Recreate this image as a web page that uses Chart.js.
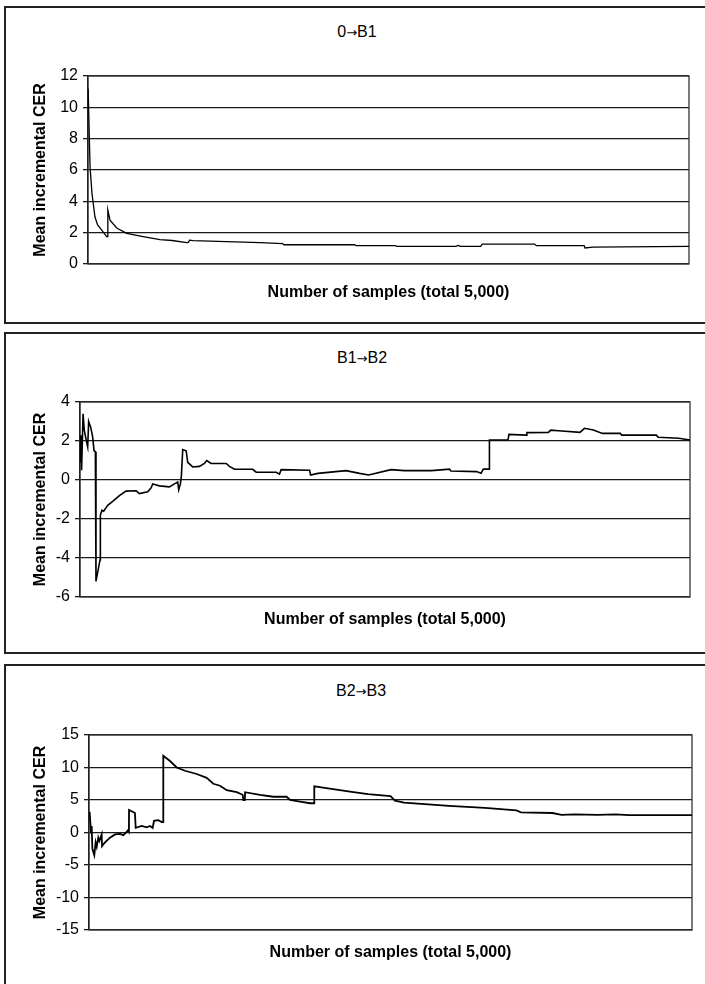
<!DOCTYPE html>
<html>
<head>
<meta charset="utf-8">
<script src="https://cdn.jsdelivr.net/npm/chart.js@4.4.1/dist/chart.umd.min.js"></script>
<style>
  html, body { margin: 0; padding: 0; background: #fff; }
  body { width: 705px; height: 984px; position: relative; overflow: hidden; font-family: "Liberation Sans", Arial, sans-serif; }
  .panel { position: absolute; box-sizing: border-box; border: 2px solid #222; background: #fff; }
  .box { position: absolute; left: 0; width: 705px; }
  .ttl { position: absolute; font-size: 16px; color: #000; transform: translate(-50%, -50%); white-space: nowrap; }
  .ttl .arr { font-family: "DejaVu Sans", sans-serif; font-size: 13px; }
</style>
</head>
<body>
<div class="panel" style="left:4px;top:6px;width:740px;height:318px;"></div>
<div class="panel" style="left:4px;top:332px;width:740px;height:322px;"></div>
<div class="panel" style="left:4px;top:664px;width:740px;height:400px;"></div>

<div class="ttl" style="left:357px;top:32px;">0<span class="arr">→</span>B1</div>
<div class="ttl" style="left:362px;top:358px;">B1<span class="arr">→</span>B2</div>
<div class="ttl" style="left:361px;top:691px;">B2<span class="arr">→</span>B3</div>

<div class="box" style="top:0px;height:323px;"><canvas id="c1" width="705" height="323"></canvas></div>
<div class="box" style="top:325px;height:328px;"><canvas id="c2" width="705" height="328"></canvas></div>
<div class="box" style="top:657px;height:327px;"><canvas id="c3" width="705" height="327"></canvas></div>

<script>
// 0 -> B1
const samples1 = [1, 17, 33, 58, 80, 100, 130, 155, 164, 165, 183, 239, 322, 458, 599, 700, 821, 835, 845, 874, 1154, 1431, 1620, 1630, 2219, 2230, 2556, 2570, 3060, 3080, 3100, 3267, 3280, 3716, 3730, 4128, 4135, 4200, 5000];
const cer1 = [11.2, 6.2, 4.5, 3.0, 2.5, 2.3, 2.0, 1.75, 1.75, 3.45, 2.8, 2.3, 1.96, 1.75, 1.55, 1.5, 1.36, 1.38, 1.52, 1.49, 1.43, 1.36, 1.3, 1.23, 1.23, 1.17, 1.17, 1.13, 1.13, 1.19, 1.13, 1.13, 1.27, 1.27, 1.17, 1.17, 1.02, 1.08, 1.13];

// B1 -> B2
const samples2 = [1, 5, 8, 13, 25, 35, 49, 63, 71, 88, 104, 115, 126, 131, 164, 167, 180, 194, 227, 268, 323, 377, 460, 487, 555, 583, 596, 651, 733, 774, 801, 809, 823, 831, 842, 870, 883, 924, 979, 1020, 1039, 1075, 1198, 1225, 1266, 1416, 1444, 1608, 1635, 1649, 1882, 1890, 1950, 2180, 2292, 2366, 2550, 2660, 2882, 3029, 3040, 3250, 3287, 3306, 3353, 3356, 3508, 3516, 3656, 3663, 3840, 3858, 3950, 4098, 4135, 4208, 4282, 4429, 4440, 4724, 4740, 4908, 5000];
const cer2 = [2.0, 0.9, 2.3, 0.5, 3.4, 2.56, 2.1, 1.7, 3.0, 2.7, 2.2, 1.5, 1.45, -5.2, -4.1, -1.8, -1.55, -1.6, -1.3, -1.1, -0.8, -0.57, -0.55, -0.7, -0.6, -0.4, -0.2, -0.3, -0.35, -0.2, -0.1, -0.5, -0.2, 0.2, 1.56, 1.5, 0.9, 0.67, 0.7, 0.85, 1.0, 0.85, 0.85, 0.7, 0.55, 0.55, 0.4, 0.4, 0.3, 0.53, 0.5, 0.26, 0.34, 0.48, 0.34, 0.26, 0.53, 0.48, 0.48, 0.56, 0.46, 0.43, 0.34, 0.56, 0.56, 2.05, 2.05, 2.34, 2.3, 2.43, 2.44, 2.56, 2.51, 2.44, 2.65, 2.56, 2.39, 2.39, 2.3, 2.3, 2.19, 2.14, 2.05];

// B2 -> B3
const samples3 = [5, 17, 22, 28, 44, 55, 64, 77, 86, 105, 108, 133, 174, 216, 257, 285, 312, 326, 331, 332, 381, 387, 437, 478, 506, 528, 539, 575, 603, 614, 616, 672, 727, 796, 893, 976, 1031, 1086, 1142, 1225, 1274, 1280, 1292, 1294, 1418, 1528, 1639, 1667, 1750, 1833, 1866, 1868, 1940, 2164, 2313, 2500, 2537, 2612, 2985, 3283, 3544, 3582, 3843, 3918, 4029, 4216, 4365, 4477, 5000];
const cer3 = [3.2, 0, 1.0, -2.5, -3.5, -1.5, -2.2, -0.77, -1.3, -0.3, -2.1, -1.5, -0.8, -0.3, -0.2, -0.4, 0.1, 0.4, 0.2, 3.47, 3.0, 0.71, 1.0, 0.8, 1.0, 0.7, 1.79, 1.9, 1.6, 1.6, 11.8, 11.0, 10.0, 9.5, 9.0, 8.4, 7.5, 7.2, 6.5, 6.2, 5.8, 5.0, 5.0, 6.2, 5.8, 5.5, 5.5, 5.0, 4.75, 4.5, 4.5, 7.1, 6.9, 6.3, 5.9, 5.6, 4.9, 4.6, 4.1, 3.8, 3.4, 3.1, 3.0, 2.7, 2.8, 2.7, 2.8, 2.66, 2.66];

const totalSamples = 5000;
const fontFamily = "'Liberation Sans', Arial, sans-serif";

// plot frame (top / right edge of the plot area)
const framePlugin = {
  id: "frame",
  beforeDatasetsDraw(chart) {
    const { ctx, chartArea: a } = chart;
    ctx.save();
    ctx.strokeStyle = "#333";
    ctx.lineWidth = 1.3;
    ctx.strokeRect(a.left, a.top, a.right - a.left, a.bottom - a.top);
    ctx.restore();
  },
};

function makeChart(id, samples, values, opt) {
  const points = samples.map((s, i) => ({ x: s, y: values[i] }));
  return new Chart(document.getElementById(id), {
    type: "line",
    data: {
      datasets: [
        {
          data: points,
          borderColor: "#000",
          borderWidth: opt.lineWidth,
          pointRadius: 0,
          tension: 0,
        },
      ],
    },
    options: {
      responsive: false,
      animation: false,
      devicePixelRatio: 1,
      layout: { padding: { top: opt.top, right: 705 - opt.right, left: 0, bottom: 0 } },
      plugins: { legend: { display: false }, tooltip: { enabled: false } },
      scales: {
        x: {
          type: "linear",
          min: 0,
          max: totalSamples,
          ticks: { display: false },
          grid: { display: false },
          border: { display: false },
          title: {
            display: true,
            text: "Number of samples (total 5,000)",
            color: "#000",
            font: { family: fontFamily, size: 16, weight: "bold" },
            padding: { top: 0, bottom: opt.xTitlePad },
          },
          afterFit: (scale) => {
            scale.height = opt.height - opt.bottom;
          },
        },
        y: {
          min: opt.min,
          max: opt.max,
          ticks: {
            stepSize: opt.step,
            color: "#000",
            padding: 5,
            font: { family: fontFamily, size: 16 },
          },
          grid: { color: "#1a1a1a", lineWidth: 1.3, tickLength: 5 },
          border: { display: true, color: "#000", width: 1.3 },
          title: {
            display: true,
            text: "Mean incremental CER",
            color: "#000",
            font: { family: fontFamily, size: 16, weight: "bold" },
            padding: { top: 31, bottom: 0 },
          },
          afterFit: (scale) => {
            scale.width = opt.left;
          },
        },
      },
    },
    plugins: [framePlugin],
  });
}

makeChart("c1", samples1, cer1, { top: 76, bottom: 264, left: 88, right: 689, height: 323, min: 0, max: 12, step: 2, lineWidth: 1.3, xTitlePad: 20.4 });
makeChart("c2", samples2, cer2, { top: 77, bottom: 272, left: 80, right: 690, height: 328, min: -6, max: 4, step: 2, lineWidth: 1.6, xTitlePad: 23.4 });
makeChart("c3", samples3, cer3, { top: 78, bottom: 273, left: 89, right: 692, height: 327, min: -15, max: 15, step: 5, lineWidth: 1.8, xTitlePad: 21.4 });
</script>
</body>
</html>
